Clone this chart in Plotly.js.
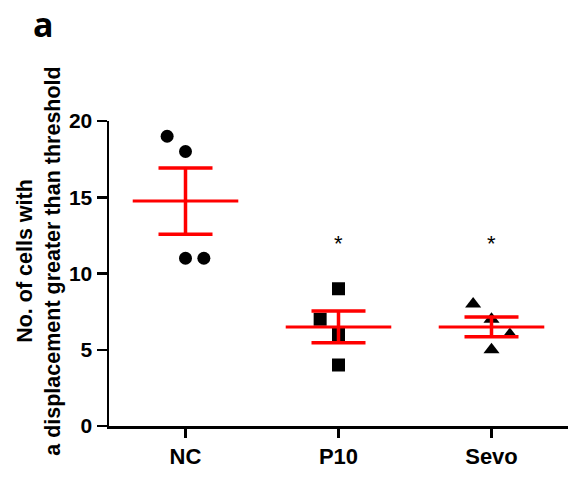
<!DOCTYPE html>
<html><head><meta charset="utf-8">
<script src="https://cdn.plot.ly/plotly-3.0.1.min.js"></script>
<style>html,body{margin:0;padding:0;background:#fff;}#chart{width:568px;height:484px;}</style>
</head><body><div id="chart"></div>
<script>
const categories = ["NC", "P10", "Sevo"];
const ncValues = [19, 18, 11, 11];
const p10Values = [9, 7, 6, 4];
const sevoValues = [8, 7, 6, 5];
const ncJitter = [-0.12, 0, 0, 0.12];
const p10Jitter = [0, -0.12, 0, 0];
const sevoJitter = [-0.12, 0, 0.12, 0];
const significance = ["", "*", "*"];
const significanceY = [null, 12.0, 12.0];
const yTicks = [0, 5, 10, 15, 20];
const yTitle = "No. of cells with<br>a displacement greater than threshold";

const groups = [ncValues, p10Values, sevoValues];
const jitters = [ncJitter, p10Jitter, sevoJitter];
const symbols = ["circle", "square", "triangle-up"];

function mean(a){return a.reduce((s,v)=>s+v,0)/a.length;}
function sem(a){const m=mean(a);const v=a.reduce((s,x)=>s+(x-m)*(x-m),0)/(a.length-1);return Math.sqrt(v)/Math.sqrt(a.length);}

const font = "Liberation Sans, Arial, sans-serif";
const traces = [];
groups.forEach((vals,i)=>{
  traces.push({type:"scatter",mode:"markers",x:vals.map((v,k)=>i+jitters[i][k]),y:vals,
    marker:{symbol:symbols[i],color:"#000",size:i===2?14:13,line:{width:0}},hoverinfo:"skip",showlegend:false,cliponaxis:false});
});
groups.forEach((vals,i)=>{
  const m=mean(vals);
  traces.push({type:"scatter",mode:"lines",x:[i-0.345,i+0.345],y:[m,m],line:{color:"#ff0000",width:3},showlegend:false,hoverinfo:"skip"});
  traces.push({type:"scatter",mode:"markers",x:[i],y:[m],marker:{size:1,opacity:0},
    error_y:{type:"data",array:[sem(vals)],visible:true,color:"#ff0000",thickness:3.5,width:27},showlegend:false,hoverinfo:"skip"});
});

const annotations = [
  {text:"<b>a</b>",xref:"paper",yref:"paper",x:-0.17,y:1.318,xanchor:"left",yanchor:"middle",showarrow:false,font:{family:"Open Sans, sans-serif",size:34,color:"#000"}},
  {text:"<b>"+yTitle+"</b>",xref:"paper",yref:"paper",x:-0.153,y:0.541,xanchor:"center",yanchor:"middle",textangle:-90,showarrow:false,font:{family:font,size:21.5,color:"#000"}}
];
significance.forEach((s,i)=>{ if(s) annotations.push({text:s,x:i,y:significanceY[i],showarrow:false,font:{family:font,size:22,color:"#000"}}); });

const layout = {
  width:568,height:484,margin:{l:109,r:0,t:121,b:58},
  paper_bgcolor:"#fff",plot_bgcolor:"#fff",
  xaxis:{range:[-0.5,2.5],tickmode:"array",tickvals:[0,1,2],ticktext:categories.map(c=>"<b>"+c+"</b>"),
    showgrid:false,zeroline:false,showline:true,linecolor:"#000",linewidth:2.5,ticks:"outside",ticklen:9,tickwidth:2.5,tickcolor:"#000",
    tickfont:{family:font,size:22,color:"#000"}},
  yaxis:{range:[0,20],tickmode:"array",tickvals:yTicks,ticktext:yTicks.map(t=>"<b>"+t+"</b>"),
    showgrid:false,zeroline:false,showline:true,linecolor:"#000",linewidth:2.5,ticks:"outside",ticklen:10,tickwidth:2.5,tickcolor:"#000",
    tickfont:{family:font,size:21,color:"#000"}},
  annotations:annotations,
  showlegend:false
};
Plotly.newPlot("chart",traces,layout,{staticPlot:true});
</script></body></html>
